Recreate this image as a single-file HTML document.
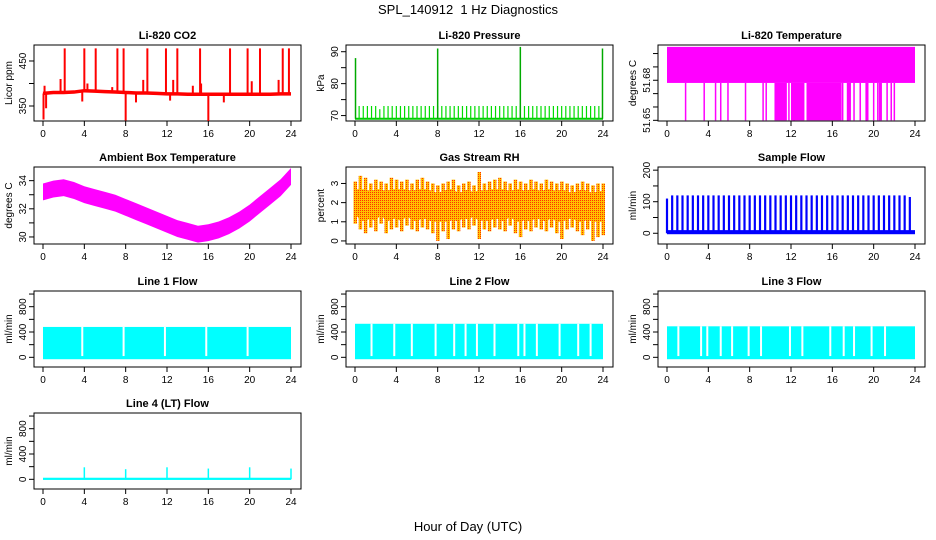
<!DOCTYPE html>
<html><head><meta charset="utf-8"><style>
body{margin:0;background:#fff}
svg{display:block;font-family:"Liberation Sans",sans-serif}
</style></head><body>
<svg id="s" width="936" height="540" xmlns="http://www.w3.org/2000/svg">
<defs><pattern id="rhpat" width="2" height="2" patternUnits="userSpaceOnUse"><rect width="2" height="2" fill="#ffc000"/><rect width="1" height="1" fill="#ff3000"/></pattern></defs>
<text x="468" y="14" text-anchor="middle" font-size="13">SPL_140912&#160; 1 Hz Diagnostics</text>
<text x="468" y="531" text-anchor="middle" font-size="13">Hour of Day (UTC)</text>
</svg>
<script>
const xTicks=[0,4,8,12,16,20,24];
const co2Base=[378,380,380,381,384,383,382,381,380,379,379,378,377,377,376,376,376,376,376,376,376,376,376,377,377];
const co2Spikes=[2.1,4.0,5.1,7.2,7.8,10.1,11.9,13.0,15.2,18.1,19.8,21.0,23.2,23.8];
const co2SmallT=[1.7,4.3,9.7,12.6,15.3,20.2,22.8,0.15,6.7,14.5];
const co2SmallV=[410,400,408,408,400,405,408,395,392,395];
const co2DipT=[0.05,8.0,16.0,3.8,12.3,0.3,9.0,17.5];
const co2DipV=[320,318,317,360,362,345,358,358];
const pressSmall=[69,73,73,73,73,73,72,73,73,73,73,73,73,73,73,73,73,73,73,73,73,73,73,73,73,73,73,73,73,73,73,73,73,73,73,73,73,73,73,73,73,73,73,73,73,73,73,73,73,73,73,73,73,73,73,73,73,73,73,73];
const pressBigT=[0.05,8.0,16.0,23.95];
const pressBigV=[88,91,91.5,91];
const tempDrops=[1.8,3.6,4.7,5.2,5.9,7.6,9.3,9.6,11.8,12.3,17.0,17.5,18.1,18.7,19.3,20.0,20.4,21.3,21.7,22.0];
const tempFillStart=[10.4,12.0,13.5,17.4,19.2,20.5];
const tempFillEnd=[11.6,13.3,16.9,17.8,19.5,20.8];
const ambCenter=[33.2,33.4,33.5,33.3,33.0,32.8,32.6,32.4,32.1,31.8,31.5,31.2,30.9,30.6,30.4,30.2,30.3,30.5,30.8,31.2,31.7,32.3,32.9,33.5,34.3];
const rhLo=[0.9,0.6,0.4,0.7,0.5,0.9,0.4,0.6,0.7,0.5,0.8,0.6,0.5,0.7,0.6,0.4,0.0,0.5,0.1,0.6,0.5,0.7,0.6,0.8,0.1,0.6,0.5,0.7,0.6,0.5,0.8,0.4,0.2,0.6,0.5,0.7,0.6,0.5,0.7,0.4,0.1,0.6,0.7,0.5,0.3,0.6,0.0,0.2,0.3];
const rhHi=[3.1,3.4,3.3,3.0,3.2,3.1,3.0,3.3,3.2,3.1,3.2,3.0,3.2,3.3,3.1,3.0,2.9,3.0,3.1,3.2,2.9,3.0,3.1,2.9,3.6,3.0,3.1,3.2,3.3,3.1,3.0,3.2,3.1,3.0,3.2,3.1,3.0,3.2,3.1,3.0,3.1,3.0,2.9,3.0,3.1,3.0,2.9,3.0,3.0];
const flowPulses=[110,120,120,120,120,120,120,120,120,120,120,120,120,120,120,120,120,120,120,120,120,120,120,120,120,120,120,120,120,120,120,120,120,120,120,120,120,120,120,120,120,120,120,120,120,120,120,115];
const line1Gaps=[3.8,7.8,11.8,15.8,19.8];
const line2Gaps=[1.6,3.8,5.5,7.8,9.6,10.7,11.8,13.5,15.8,16.4,17.6,19.8,21.6,22.8];
const line3Gaps=[1.1,3.3,3.9,5.2,6.3,7.9,9.1,11.9,13.1,15.8,17.1,18.1,19.8,21.1];
const line4SpikeT=[4,8,12,16,20,24];
const line4SpikeV=[190,160,190,170,190,170];

const S=document.getElementById('s');const NS='http://www.w3.org/2000/svg';
function mk(t,a,p){const e=document.createElementNS(NS,t);for(const k in a)e.setAttribute(k,a[k]);(p||S).appendChild(e);return e;}
function panel(col,row,title,ylab,ymin,ymax,yticks,ylabels,name){
  const L=34+312*col,R=L+267,T=[45,167,291,413][row],B=[121,244,367,489][row];
  const g=mk('g',{});
  
  
  const x=h=>L+9+h*(248/24), y=v=>B-(v-ymin)/(ymax-ymin)*(B-T);
  mk('rect',{x:L,y:T,width:R-L,height:B-T,fill:'none',stroke:'#000','stroke-width':1},g);
  const tt=mk('text',{x:(L+R)/2,y:T-6,'text-anchor':'middle','font-size':11,'font-weight':'bold'},g);tt.textContent=title;
  
  
  xTicks.forEach(h=>{mk('line',{x1:x(h),x2:x(h),y1:B,y2:B+5,stroke:'#000'},g);const t=mk('text',{x:x(h),y:B+16,'text-anchor':'middle','font-size':10},g);t.textContent=h;});
  yticks.forEach((v,i)=>{const yy=y(v);mk('line',{x1:L-5,x2:L,y1:yy,y2:yy,stroke:'#000'},g);if(ylabels[i]!==''){const t=mk('text',{x:L-8,y:yy,'text-anchor':'middle','font-size':10,transform:`rotate(-90 ${L-8} ${yy})`},g);t.textContent=ylabels[i];}});
  const yl=mk('text',{x:L-22,y:(T+B)/2,'text-anchor':'middle','font-size':10,transform:`rotate(-90 ${L-22} ${(T+B)/2})`},g);yl.textContent=ylab;
  
  
  const cg=mk('g',{},g);
  return {x,y,g:cg};
}
function vl(p,h,v1,v2,c,w){return mk('line',{x1:p.x(h),x2:p.x(h),y1:p.y(v1),y2:p.y(v2),stroke:c,'stroke-width':w||1.5},p.g);}

// CO2
let p=panel(0,0,'Li-820 CO2','Licor ppm',316.7,485.5,[350,400,450],['350','','450'],'co2');
let d='';co2Base.forEach((v,i)=>{d+=(i?'L':'M')+p.x(i)+' '+p.y(v);});
mk('path',{d,fill:'none',stroke:'#f00','stroke-width':3.5},p.g);
co2Spikes.forEach(h=>vl(p,h,co2Base[Math.round(h)],478,'#f00',2));
co2SmallT.forEach((h,i)=>vl(p,h,co2Base[Math.round(h)],co2SmallV[i],'#f00',2));
co2DipT.forEach((h,i)=>vl(p,h,co2Base[Math.round(h)],co2DipV[i],'#f00',2));

// Pressure
p=panel(1,0,'Li-820 Pressure','kPa',68.3,92.1,[70,75,80,85,90],['70','','80','','90'],'pressure');
mk('line',{x1:p.x(0),x2:p.x(24),y1:p.y(69),y2:p.y(69),stroke:'#0c0','stroke-width':2},p.g);
pressSmall.forEach((v,i)=>vl(p,i*0.4,69,v,'#0d0',1.2));
pressBigT.forEach((h,i)=>vl(p,h,69,pressBigV[i],'#0a0',1.5));

// Li-820 Temperature
p=panel(2,0,'Li-820 Temperature','degrees C',51.6495,51.7064,[51.65,51.66,51.67,51.68,51.69,51.70],['51.65','','','51.68','',''],'li820-temp');
mk('rect',{x:p.x(0),y:p.y(51.705),width:p.x(24)-p.x(0),height:p.y(51.678)-p.y(51.705),fill:'#f0f'},p.g);
tempDrops.forEach(h=>vl(p,h,51.678,51.65,'#f0f',1.5));
tempFillStart.forEach((h,i)=>mk('rect',{x:p.x(h),y:p.y(51.678),width:p.x(tempFillEnd[i])-p.x(h),height:p.y(51.65)-p.y(51.678),fill:'#f0f'},p.g));

// Ambient
p=panel(0,1,'Ambient Box Temperature','degrees C',29.5,34.97,[30,31,32,33,34],['30','','32','','34'],'ambient-temp');
let up='',dn='';ambCenter.forEach((v,i)=>{up+=(i?'L':'M')+p.x(i)+' '+p.y(v+0.6);});
for(let i=ambCenter.length-1;i>=0;i--)dn+='L'+p.x(i)+' '+p.y(ambCenter[i]-0.6);
mk('path',{d:up+dn+'Z',fill:'#f0f'},p.g);

// RH
p=panel(1,1,'Gas Stream RH','percent',-0.16,3.86,[0,1,2,3],['0','1','2','3'],'rh');
rhLo.forEach((v,i)=>{mk('rect',{x:p.x(i*0.5)-1.5,y:p.y(rhHi[i]),width:3.5,height:p.y(v)-p.y(rhHi[i]),fill:'url(#rhpat)'},p.g);});
let rd='';rhLo.forEach((v,i)=>{rd+=(i?'L':'M')+p.x(i*0.5)+' '+p.y(Math.max(v+0.5,1.0));});
for(let i=rhHi.length-1;i>=0;i--)rd+='L'+p.x(i*0.5)+' '+p.y(Math.min(rhHi[i]-0.4,2.7));
mk('path',{d:rd+'Z',fill:'url(#rhpat)'},p.g);

// Sample flow
p=panel(2,1,'Sample Flow','ml/min',-34,210,[0,50,100,150,200],['0','','100','','200'],'sample-flow');
mk('rect',{x:p.x(0),y:p.y(10),width:p.x(24)-p.x(0),height:p.y(-3)-p.y(10),fill:'#00f'},p.g);
flowPulses.forEach((v,i)=>vl(p,i*0.5,0,v,'#00f',2.2));

// Line flows
function linePanel(col,row,title,name,hi,gaps){
  const q=panel(col,row,title,'ml/min',-153,1048,[0,200,400,600,800,1000],['0','','400','','800',''],name);
  mk('rect',{x:q.x(0),y:q.y(hi),width:q.x(24)-q.x(0),height:q.y(-30)-q.y(hi),fill:'#0ff'},q.g);
  gaps.forEach(h=>vl(q,h,hi,20,'#fff',2));
  return q;
}
linePanel(0,2,'Line 1 Flow','line1-flow',480,line1Gaps);
linePanel(1,2,'Line 2 Flow','line2-flow',530,line2Gaps);
linePanel(2,2,'Line 3 Flow','line3-flow',490,line3Gaps);
p=panel(0,3,'Line 4 (LT) Flow','ml/min',-153,1048,[0,200,400,600,800,1000],['0','','400','','800',''],'line4-flow');
mk('rect',{x:p.x(0),y:p.y(25),width:p.x(24)-p.x(0),height:p.y(-10)-p.y(25),fill:'#0ff'},p.g);
line4SpikeT.forEach((h,i)=>vl(p,h,0,line4SpikeV[i],'#0ff',1.5));
</script>
</body></html>
